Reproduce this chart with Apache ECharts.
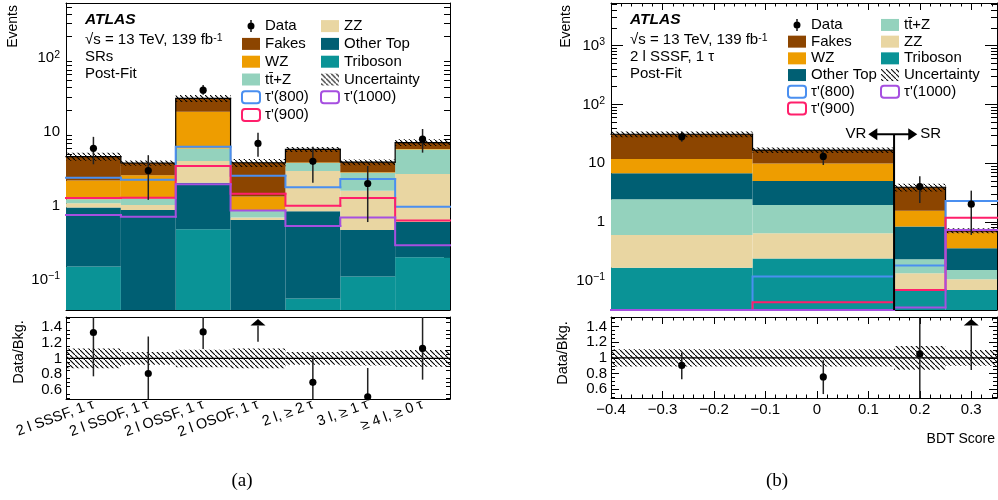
<!DOCTYPE html>
<html lang="en">
<head>
<meta charset="UTF-8" />
<title>tau' post-fit yields</title>
<script src="https://cdn.jsdelivr.net/npm/echarts@6/dist/echarts.min.js"></script>
<style>
  html, body { margin: 0; padding: 0; background: #fff; }
  #main { width: 998px; height: 500px; }
</style>
</head>
<body>
<div id="main"></div>
<script>
// ---------- (a) signal regions ----------
var srBins = ['2 l SSSF, 1 τ', '2 l SSOF, 1 τ', '2 l OSSF, 1 τ', '2 l OSOF, 1 τ', '2 l, ≥ 2 τ', '3 l, ≥ 1 τ', '≥ 4 l, ≥ 0 τ'];
var srTriboson = [0.149, 0.01, 0.478, 0.01, 0.055, 0.109, 0.2];
var srOtherTop = [0.80, 0.865, 1.57, 0.63, 0.785, 0.36, 0.40];
var srZZ       = [0.13, 0.145, 1.99, 0.05, 2.12, 1.13, 2.10];
var srTtZ      = [0.14, 0.24, 1.96, 0.16, 0.84, 1.20, 3.10];
var srWZ       = [0.98, 1.34, 12.9, 0.48, 0.05, 0.05, 0.10];
var srFakes    = [2.45, 1.20, 9.8, 2.50, 1.95, 1.05, 1.30];
var srUnc      = [0.125, 0.08, 0.11, 0.125, 0.08, 0.09, 0.105];
var srData     = [6, 3, 37, 7, 4, 2, 8];
var srDataLo   = [3.65, 1.2, 32, 4.6, 2.05, 0.6, 5.25];
var srDataHi   = [8.6, 4.85, 43.6, 9.8, 6.3, 3.46, 11.0];
var srTau800   = [2.4, 2.25, 6.3, 2.55, 1.78, 2.3, 0.97];
var srTau900   = [1.27, 1.28, 3.46, 1.45, 1.0, 1.27, 0.63];
var srTau1000  = [0.75, 0.71, 1.95, 0.86, 0.53, 0.69, 0.29];
var srRatio    = [1.325, 0.81, 1.333, 1.84, 0.70, 0.517, 1.125];
var srRatioLo  = [0.775, 0.3, 1.117, 1.21, 0.3, 0.3, 0.733];
var srRatioHi  = [1.9, 1.275, 1.9, 2.5, 1.033, 0.88, 1.9];

// ---------- (b) BDT score, 2l SSSF 1tau ----------
var bdtEdges     = [-0.4, -0.125, 0.15, 0.25, 0.35];
var bdtTriboson  = [0.166, 0.238, 0.068, 0.069];
var bdtZZ        = [0.434, 0.402, 0.065, 0.036];
var bdtTtZ       = [1.83, 1.30, 0.098, 0.047];
var bdtOtherTop  = [4.27, 3.03, 0.60, 0.204];
var bdtWZ        = [5.1, 4.93, 0.72, 0.30];
var bdtFakes     = [19.2, 6.8, 2.33, 0.055];
var bdtUnc       = [0.11, 0.11, 0.15, 0.10];
var bdtData      = [28, 13, 4, 2];
var bdtDataLo    = [23.2, 9.3, 2.09, 0.6];
var bdtDataHi    = [34.3, 16.4, 6.0, 3.4];
var bdtTau800    = [0.02, 0.117, 0.18, 2.27];
var bdtTau900    = [0.02, 0.043, 0.069, 1.18];
var bdtTau1000   = [0.02, 0.02, 0.035, 0.73];
var bdtRatio     = [0.904, 0.758, 1.05, 2.8];
var bdtRatioLo   = [0.73, 0.54, 0.3, 0.846];
var bdtRatioHi   = [1.07, 0.97, 1.9, 4];
var vrBoundary = 0.15, vrArrowY = 31, vrArrowX = [0.1, 0.195];

var COL = {
  Fakes: '#8c4500', WZ: '#ee9d00', ttZ: '#94d2bd', ZZ: '#e9d6a2',
  OtherTop: '#005f73', Triboson: '#0a9396',
  t800: '#4a8ff0', t900: '#ff1f6b', t1000: '#a64fe0'
};
var FONT = 'Liberation Sans';
var TTZ = 'tt\u0304+Z';

// hatch pattern "\\\\"
var HATCH = (function () {
  var c = document.createElement('canvas');
  c.width = 5; c.height = 5;
  var g = c.getContext('2d');
  g.strokeStyle = '#000'; g.lineWidth = 1.1;
  g.beginPath(); g.moveTo(-1, -1); g.lineTo(6, 6); g.stroke();
  return { image: c, repeat: 'repeat' };
})();

function clampY(y, cs) { return Math.min(Math.max(y, cs.y), cs.y + cs.height); }

var panels = [
  {
    mainX: 0, mainY: 0, ratX: 2, ratY: 2, n: 7,
    xc: function (i) { return i; },
    xs: function (api, i) {
      var c = api.coord([i, 1]);
      var w = api.size([1, 1], [i, 1])[0];
      return [c[0] - w / 2, c[0] + w / 2];
    },
    layers: [
      { name: 'Triboson', vals: srTriboson, color: COL.Triboson },
      { name: 'Other Top', vals: srOtherTop, color: COL.OtherTop },
      { name: 'ZZ', vals: srZZ, color: COL.ZZ },
      { name: TTZ, vals: srTtZ, color: COL.ttZ },
      { name: 'WZ', vals: srWZ, color: COL.WZ },
      { name: 'Fakes', vals: srFakes, color: COL.Fakes }
    ],
    unc: srUnc, data: srData, dataLo: srDataLo, dataHi: srDataHi,
    sig: [[srTau800, COL.t800, "τ'(800)"], [srTau900, COL.t900, "τ'(900)"], [srTau1000, COL.t1000, "τ'(1000)"]],
    ratio: srRatio, ratioLo: srRatioLo, ratioHi: srRatioHi
  },
  {
    mainX: 4, mainY: 4, ratX: 6, ratY: 6, n: 4,
    xc: function (i) { return (bdtEdges[i] + bdtEdges[i + 1]) / 2; },
    xs: function (api, i) {
      return [api.coord([bdtEdges[i], 1])[0], api.coord([bdtEdges[i + 1], 1])[0]];
    },
    layers: [
      { name: 'Triboson', vals: bdtTriboson, color: COL.Triboson },
      { name: 'ZZ', vals: bdtZZ, color: COL.ZZ },
      { name: TTZ, vals: bdtTtZ, color: COL.ttZ },
      { name: 'Other Top', vals: bdtOtherTop, color: COL.OtherTop },
      { name: 'WZ', vals: bdtWZ, color: COL.WZ },
      { name: 'Fakes', vals: bdtFakes, color: COL.Fakes }
    ],
    unc: bdtUnc, data: bdtData, dataLo: bdtDataLo, dataHi: bdtDataHi,
    sig: [[bdtTau800, COL.t800, "τ'(800)"], [bdtTau900, COL.t900, "τ'(900)"], [bdtTau1000, COL.t1000, "τ'(1000)"]],
    ratio: bdtRatio, ratioLo: bdtRatioLo, ratioHi: bdtRatioHi
  }
];

var series = [];

panels.forEach(function (p, pi) {
  // cumulative stack
  var cum = [p.layers[0].vals.map(function () { return 0; })];
  p.layers.forEach(function (ly, k) {
    cum.push(ly.vals.map(function (v, i) { return cum[k][i] + v; }));
  });
  var total = cum[cum.length - 1];
  var idx = total.map(function (t, i) { return i; });

  p.layers.forEach(function (ly, k) {
    series.push({
      type: 'custom', name: ly.name, xAxisIndex: p.mainX, yAxisIndex: p.mainY, z: 2,
      data: idx.map(function (i) { return [p.xc(i), cum[k + 1][i]]; }),
      renderItem: function (params, api) {
        var i = params.dataIndex, cs = params.coordSys;
        var xs = p.xs(api, i);
        var lo = cum[k][i], hi = cum[k + 1][i];
        var yb = lo > 0 ? clampY(api.coord([p.xc(i), lo])[1], cs) : cs.y + cs.height;
        var yt = clampY(api.coord([p.xc(i), hi])[1], cs);
        return { type: 'rect', shape: { x: xs[0], y: yt, width: xs[1] - xs[0], height: yb - yt },
          style: { fill: ly.color } };
      }
    });
  });

  function step(vals, color, width) {
    return function (params, api) {
      var i = params.dataIndex, cs = params.coordSys;
      var xs = p.xs(api, i);
      var y = clampY(api.coord([p.xc(i), vals[i]])[1], cs);
      var pts = [[xs[0], y], [xs[1], y]];
      if (i > 0) pts.unshift([xs[0], clampY(api.coord([p.xc(i - 1), vals[i - 1]])[1], cs)]);
      return { type: 'polyline', shape: { points: pts },
        style: { stroke: color, lineWidth: width, fill: 'none', lineCap: 'square' } };
    };
  }

  // total outline
  series.push({
    type: 'custom', name: 'total' + pi, xAxisIndex: p.mainX, yAxisIndex: p.mainY, z: 3,
    data: idx.map(function (i) { return [p.xc(i), total[i]]; }),
    renderItem: step(total, '#000', 1.2)
  });
  // uncertainty band
  series.push({
    type: 'custom', name: 'Uncertainty', xAxisIndex: p.mainX, yAxisIndex: p.mainY, z: 4,
    data: idx.map(function (i) { return [p.xc(i), total[i]]; }),
    renderItem: function (params, api) {
      var i = params.dataIndex, cs = params.coordSys;
      var xs = p.xs(api, i);
      var yt = clampY(api.coord([p.xc(i), total[i] * (1 + p.unc[i])])[1], cs);
      var yb = clampY(api.coord([p.xc(i), total[i] * (1 - p.unc[i])])[1], cs);
      return { type: 'rect', shape: { x: xs[0], y: yt, width: xs[1] - xs[0], height: yb - yt },
        style: { fill: HATCH } };
    }
  });
  // signals
  p.sig.forEach(function (s, j) {
    series.push({
      type: 'custom', name: s[2], xAxisIndex: p.mainX, yAxisIndex: p.mainY, z: 5 + j,
      data: idx.map(function (i) { return [p.xc(i), s[0][i]]; }),
      renderItem: step(s[0], s[1], 2)
    });
  });
  // data
  series.push({
    type: 'custom', name: 'Data', xAxisIndex: p.mainX, yAxisIndex: p.mainY, z: 10,
    data: idx.map(function (i) { return [p.xc(i), p.data[i]]; }),
    renderItem: function (params, api) {
      var i = params.dataIndex;
      var c = api.coord([p.xc(i), p.data[i]]);
      var yh = api.coord([p.xc(i), p.dataHi[i]])[1];
      var yl = api.coord([p.xc(i), p.dataLo[i]])[1];
      return { type: 'group', children: [
        { type: 'line', shape: { x1: c[0], y1: yh, x2: c[0], y2: yl }, style: { stroke: '#222', lineWidth: 1.5 } },
        { type: 'circle', shape: { cx: c[0], cy: c[1], r: 3.6 }, style: { fill: '#000' } }
      ] };
    }
  });

  // ratio: band + unity line
  series.push({
    type: 'custom', name: 'ratioBand' + pi, xAxisIndex: p.ratX, yAxisIndex: p.ratY, z: 2,
    data: idx.map(function (i) { return [p.xc(i), 1]; }),
    renderItem: function (params, api) {
      var i = params.dataIndex, cs = params.coordSys;
      var xs = p.xs(api, i);
      var yt = clampY(api.coord([p.xc(i), 1 + p.unc[i]])[1], cs);
      var yb = clampY(api.coord([p.xc(i), 1 - p.unc[i]])[1], cs);
      var y1 = api.coord([p.xc(i), 1])[1];
      return { type: 'group', children: [
        { type: 'rect', shape: { x: xs[0], y: yt, width: xs[1] - xs[0], height: yb - yt }, style: { fill: HATCH } },
        { type: 'line', shape: { x1: xs[0], y1: y1, x2: xs[1], y2: y1 }, style: { stroke: '#000', lineWidth: 1.2 } }
      ] };
    }
  });
  // ratio points
  series.push({
    type: 'custom', name: 'ratioPts' + pi, xAxisIndex: p.ratX, yAxisIndex: p.ratY, z: 5,
    data: idx.map(function (i) { return [p.xc(i), Math.min(p.ratio[i], 1.5)]; }),
    renderItem: function (params, api) {
      var i = params.dataIndex, cs = params.coordSys;
      var x = api.coord([p.xc(i), 1])[0];
      var yl = clampY(api.coord([p.xc(i), p.ratioLo[i]])[1], cs);
      var yh = clampY(api.coord([p.xc(i), p.ratioHi[i]])[1], cs);
      var yv = api.coord([p.xc(i), p.ratio[i]])[1];
      if (yv < cs.y) {
        var tip = cs.y + 2, base = cs.y + 8.5;
        return { type: 'group', children: [
          { type: 'line', shape: { x1: x, y1: base, x2: x, y2: yl }, style: { stroke: '#222', lineWidth: 1.5 } },
          { type: 'polygon', shape: { points: [[x, tip], [x - 7.5, base], [x + 7.5, base]] }, style: { fill: '#000' } }
        ] };
      }
      return { type: 'group', children: [
        { type: 'line', shape: { x1: x, y1: yh, x2: x, y2: yl }, style: { stroke: '#222', lineWidth: 1.5 } },
        { type: 'circle', shape: { cx: x, cy: yv, r: 3.6 }, style: { fill: '#000' } }
      ] };
    }
  });
});

// VR <-> SR annotation on (b)
series.push({
  type: 'custom', name: 'vrsr', xAxisIndex: 4, yAxisIndex: 4, z: 12,
  data: [[vrBoundary, vrArrowY]],
  renderItem: function (params, api) {
    var cs = params.coordSys;
    var c = api.coord([vrBoundary, vrArrowY]);
    var xl = api.coord([vrArrowX[0], vrArrowY])[0];
    var xr = api.coord([vrArrowX[1], vrArrowY])[0];
    var y = c[1];
    var ts = { fontSize: 15, fontFamily: FONT, fill: '#000', verticalAlign: 'middle' };
    return { type: 'group', children: [
      { type: 'line', shape: { x1: c[0], y1: y, x2: c[0], y2: cs.y + cs.height }, style: { stroke: '#000', lineWidth: 2 } },
      { type: 'line', shape: { x1: xl + 6, y1: y, x2: xr - 6, y2: y }, style: { stroke: '#000', lineWidth: 2 } },
      { type: 'polygon', shape: { points: [[xl, y], [xl + 9, y - 6], [xl + 9, y + 6]] }, style: { fill: '#000' } },
      { type: 'polygon', shape: { points: [[xr, y], [xr - 9, y - 6], [xr - 9, y + 6]] }, style: { fill: '#000' } },
      { type: 'text', x: xl - 2, y: y, style: echarts.util.extend({ text: 'VR', align: 'right' }, ts) },
      { type: 'text', x: xr + 3, y: y, style: echarts.util.extend({ text: 'SR', align: 'left' }, ts) }
    ] };
  }
});

// ---------- axes ----------
var LINE = { show: true, onZero: false, lineStyle: { color: '#000', width: 1 } };
var LBL = { color: '#000', fontFamily: FONT, fontSize: 15 };
var SUP = { s: { fontFamily: FONT, fontSize: 10.5, color: '#000', verticalAlign: 'top', padding: [0, 0, 7, 0] } };

function logLabel(v) {
  var e = Math.round(Math.log(v) / Math.LN10);
  if (e === 0) return '1';
  if (e === 1) return '10';
  return '10{s|' + (e < 0 ? '\u2212' + (-e) : e) + '}';
}

function catAxis(grid, pos, labels) {
  return {
    type: 'category', gridIndex: grid, position: pos, data: srBins, boundaryGap: true,
    axisLine: LINE, splitLine: { show: false },
    axisTick: { inside: true, length: 7, interval: 0, lineStyle: { color: '#000' } },
    axisLabel: labels ? echarts.util.extend({ show: true, interval: 0, rotate: 20, margin: 5, fontSize: 14.5 },
      { color: '#000', fontFamily: FONT }) : { show: false }
  };
}
function bdtAxis(grid, pos, labels) {
  return {
    type: 'value', gridIndex: grid, position: pos, min: -0.4, max: 0.35, interval: 0.1,
    axisLine: LINE, splitLine: { show: false },
    axisTick: { inside: true, length: 7, lineStyle: { color: '#000' } },
    minorTick: { show: true, splitNumber: 5, length: 3.5, lineStyle: { color: '#000' } },
    axisLabel: labels ? echarts.util.extend({
      show: true, margin: 4, showMaxLabel: false,
      formatter: function (v) { return (v < -1e-9 ? '\u2212' : '') + Math.abs(v).toFixed(1).replace(/^0\.0$/, '0'); }
    }, LBL) : { show: false }
  };
}
function logAxis(grid, pos, min, max, labels) {
  return {
    type: 'log', logBase: 10, gridIndex: grid, position: pos, min: min, max: max,
    axisLine: LINE, splitLine: { show: false },
    axisTick: { inside: true, length: 12, lineStyle: { color: '#000' } },
    minorTick: { show: true, splitNumber: 9, length: 6, lineStyle: { color: '#000' } },
    axisLabel: labels ? echarts.util.extend({
      show: true, margin: 6, showMinLabel: false, showMaxLabel: false, formatter: logLabel, rich: SUP
    }, LBL) : { show: false }
  };
}
function ratioAxis(grid, pos, labels) {
  return {
    type: 'value', gridIndex: grid, position: pos, min: 0.49, max: 1.52,
    axisLine: LINE, splitLine: { show: false },
    axisTick: { inside: true, length: 8, lineStyle: { color: '#000' } },
    minorTick: { show: true, splitNumber: 4, length: 4, lineStyle: { color: '#000' } },
    axisLabel: labels ? echarts.util.extend({ show: true, margin: 4, showMinLabel: false, showMaxLabel: false }, LBL)
      : { show: false }
  };
}

// ---------- legends ----------
var DATA_ICON = 'path://M8.3,0h1.4v12h-1.4z M12.5,6a3.5,3.5 0 1 1 -7,0a3.5,3.5 0 1 1 7,0z';
function li(name) {
  var fills = { 'Fakes': COL.Fakes, 'WZ': COL.WZ, 'ZZ': COL.ZZ, 'Other Top': COL.OtherTop, 'Triboson': COL.Triboson };
  fills[TTZ] = COL.ttZ;
  var lines = { "τ'(800)": COL.t800, "τ'(900)": COL.t900, "τ'(1000)": COL.t1000 };
  if (name === 'Data') return { name: name, icon: DATA_ICON, itemStyle: { color: '#000' } };
  if (name === 'Uncertainty') return { name: name, icon: 'rect', itemStyle: { color: HATCH } };
  if (lines[name]) return { name: name, icon: 'roundRect', itemStyle: { color: '#fff', borderColor: lines[name], borderWidth: 2 } };
  return { name: name, icon: 'rect', itemStyle: { color: fills[name] } };
}
function legend(left, top, lh, names) {
  return {
    orient: 'vertical', left: left, top: top, padding: 0, itemGap: 0,
    itemWidth: 18, itemHeight: 12, selectedMode: false, symbolKeepAspect: true,
    textStyle: { fontFamily: FONT, fontSize: 15, color: '#000', lineHeight: lh },
    data: names.map(li)
  };
}

function txt(x, y, text, extra) {
  return { type: 'text', x: x, y: y, silent: true,
    style: echarts.util.extend({ text: text, fontFamily: FONT, fontSize: 15, fill: '#000', verticalAlign: 'middle',
      rich: { s: { fontFamily: FONT, fontSize: 10.5, fill: '#000', verticalAlign: 'top' } } }, extra || {}) };
}

var chart = echarts.init(document.getElementById('main'), null, { renderer: 'canvas' });
chart.setOption({
  animation: false,
  backgroundColor: '#fff',
  grid: [
    { left: 66, top: 3, width: 384, height: 307 },
    { left: 66, top: 317, width: 384, height: 82 },
    { left: 611, top: 3, width: 386, height: 307 },
    { left: 611, top: 317, width: 386, height: 81 }
  ],
  xAxis: [
    catAxis(0, 'bottom', false), catAxis(0, 'top', false),
    catAxis(1, 'bottom', true), catAxis(1, 'top', false),
    bdtAxis(2, 'bottom', false), bdtAxis(2, 'top', false),
    bdtAxis(3, 'bottom', true), bdtAxis(3, 'top', false)
  ],
  yAxis: [
    logAxis(0, 'left', 0.0384, 564, true), logAxis(0, 'right', 0.0384, 564, false),
    ratioAxis(1, 'left', true), ratioAxis(1, 'right', false),
    logAxis(2, 'left', 0.0316, 5320, true), logAxis(2, 'right', 0.0316, 5320, false),
    ratioAxis(3, 'left', true), ratioAxis(3, 'right', false)
  ],
  legend: [
    legend(241, 17.2, 17.8, ['Data', 'Fakes', 'WZ', TTZ, "τ'(800)", "τ'(900)"]),
    legend(320, 17.2, 17.8, ['ZZ', 'Other Top', 'Triboson', 'Uncertainty', "τ'(1000)"]),
    legend(787, 16.6, 16.7, ['Data', 'Fakes', 'WZ', 'Other Top', "τ'(800)", "τ'(900)"]),
    legend(880, 16.6, 16.7, [TTZ, 'ZZ', 'Triboson', 'Uncertainty', "τ'(1000)"])
  ],
  graphic: { elements: [
    txt(85, 20, 'ATLAS', { fontWeight: 'bold', fontStyle: 'italic', fontSize: 15.5 }),
    txt(85, 40, '√s = 13 TeV, 139 fb{s|-1}'),
    txt(85, 57, 'SRs'),
    txt(85, 74, 'Post-Fit'),
    txt(630, 20, 'ATLAS', { fontWeight: 'bold', fontStyle: 'italic', fontSize: 15.5 }),
    txt(630, 40, '√s = 13 TeV, 139 fb{s|-1}'),
    txt(630, 57, '2 l SSSF, 1 τ'),
    txt(630, 74, 'Post-Fit'),
    { type: 'text', x: 13, y: 5, rotation: Math.PI / 2, silent: true,
      style: { text: 'Events', fontFamily: FONT, fontSize: 14, fill: '#000', align: 'right', verticalAlign: 'middle' } },
    { type: 'text', x: 566, y: 5, rotation: Math.PI / 2, silent: true,
      style: { text: 'Events', fontFamily: FONT, fontSize: 14, fill: '#000', align: 'right', verticalAlign: 'middle' } },
    { type: 'text', x: 19, y: 352, rotation: Math.PI / 2, silent: true,
      style: { text: 'Data/Bkg.', fontFamily: FONT, fontSize: 14.5, fill: '#000', align: 'center', verticalAlign: 'middle' } },
    { type: 'text', x: 563, y: 353, rotation: Math.PI / 2, silent: true,
      style: { text: 'Data/Bkg.', fontFamily: FONT, fontSize: 14.5, fill: '#000', align: 'center', verticalAlign: 'middle' } },
    txt(995, 439, 'BDT Score', { align: 'right', fontSize: 14 }),
    txt(242, 481, '(a)', { align: 'center', fontFamily: 'Liberation Serif', fontSize: 19 }),
    txt(777, 481, '(b)', { align: 'center', fontFamily: 'Liberation Serif', fontSize: 19 })
  ] },
  series: series
});
</script>
</body>
</html>
